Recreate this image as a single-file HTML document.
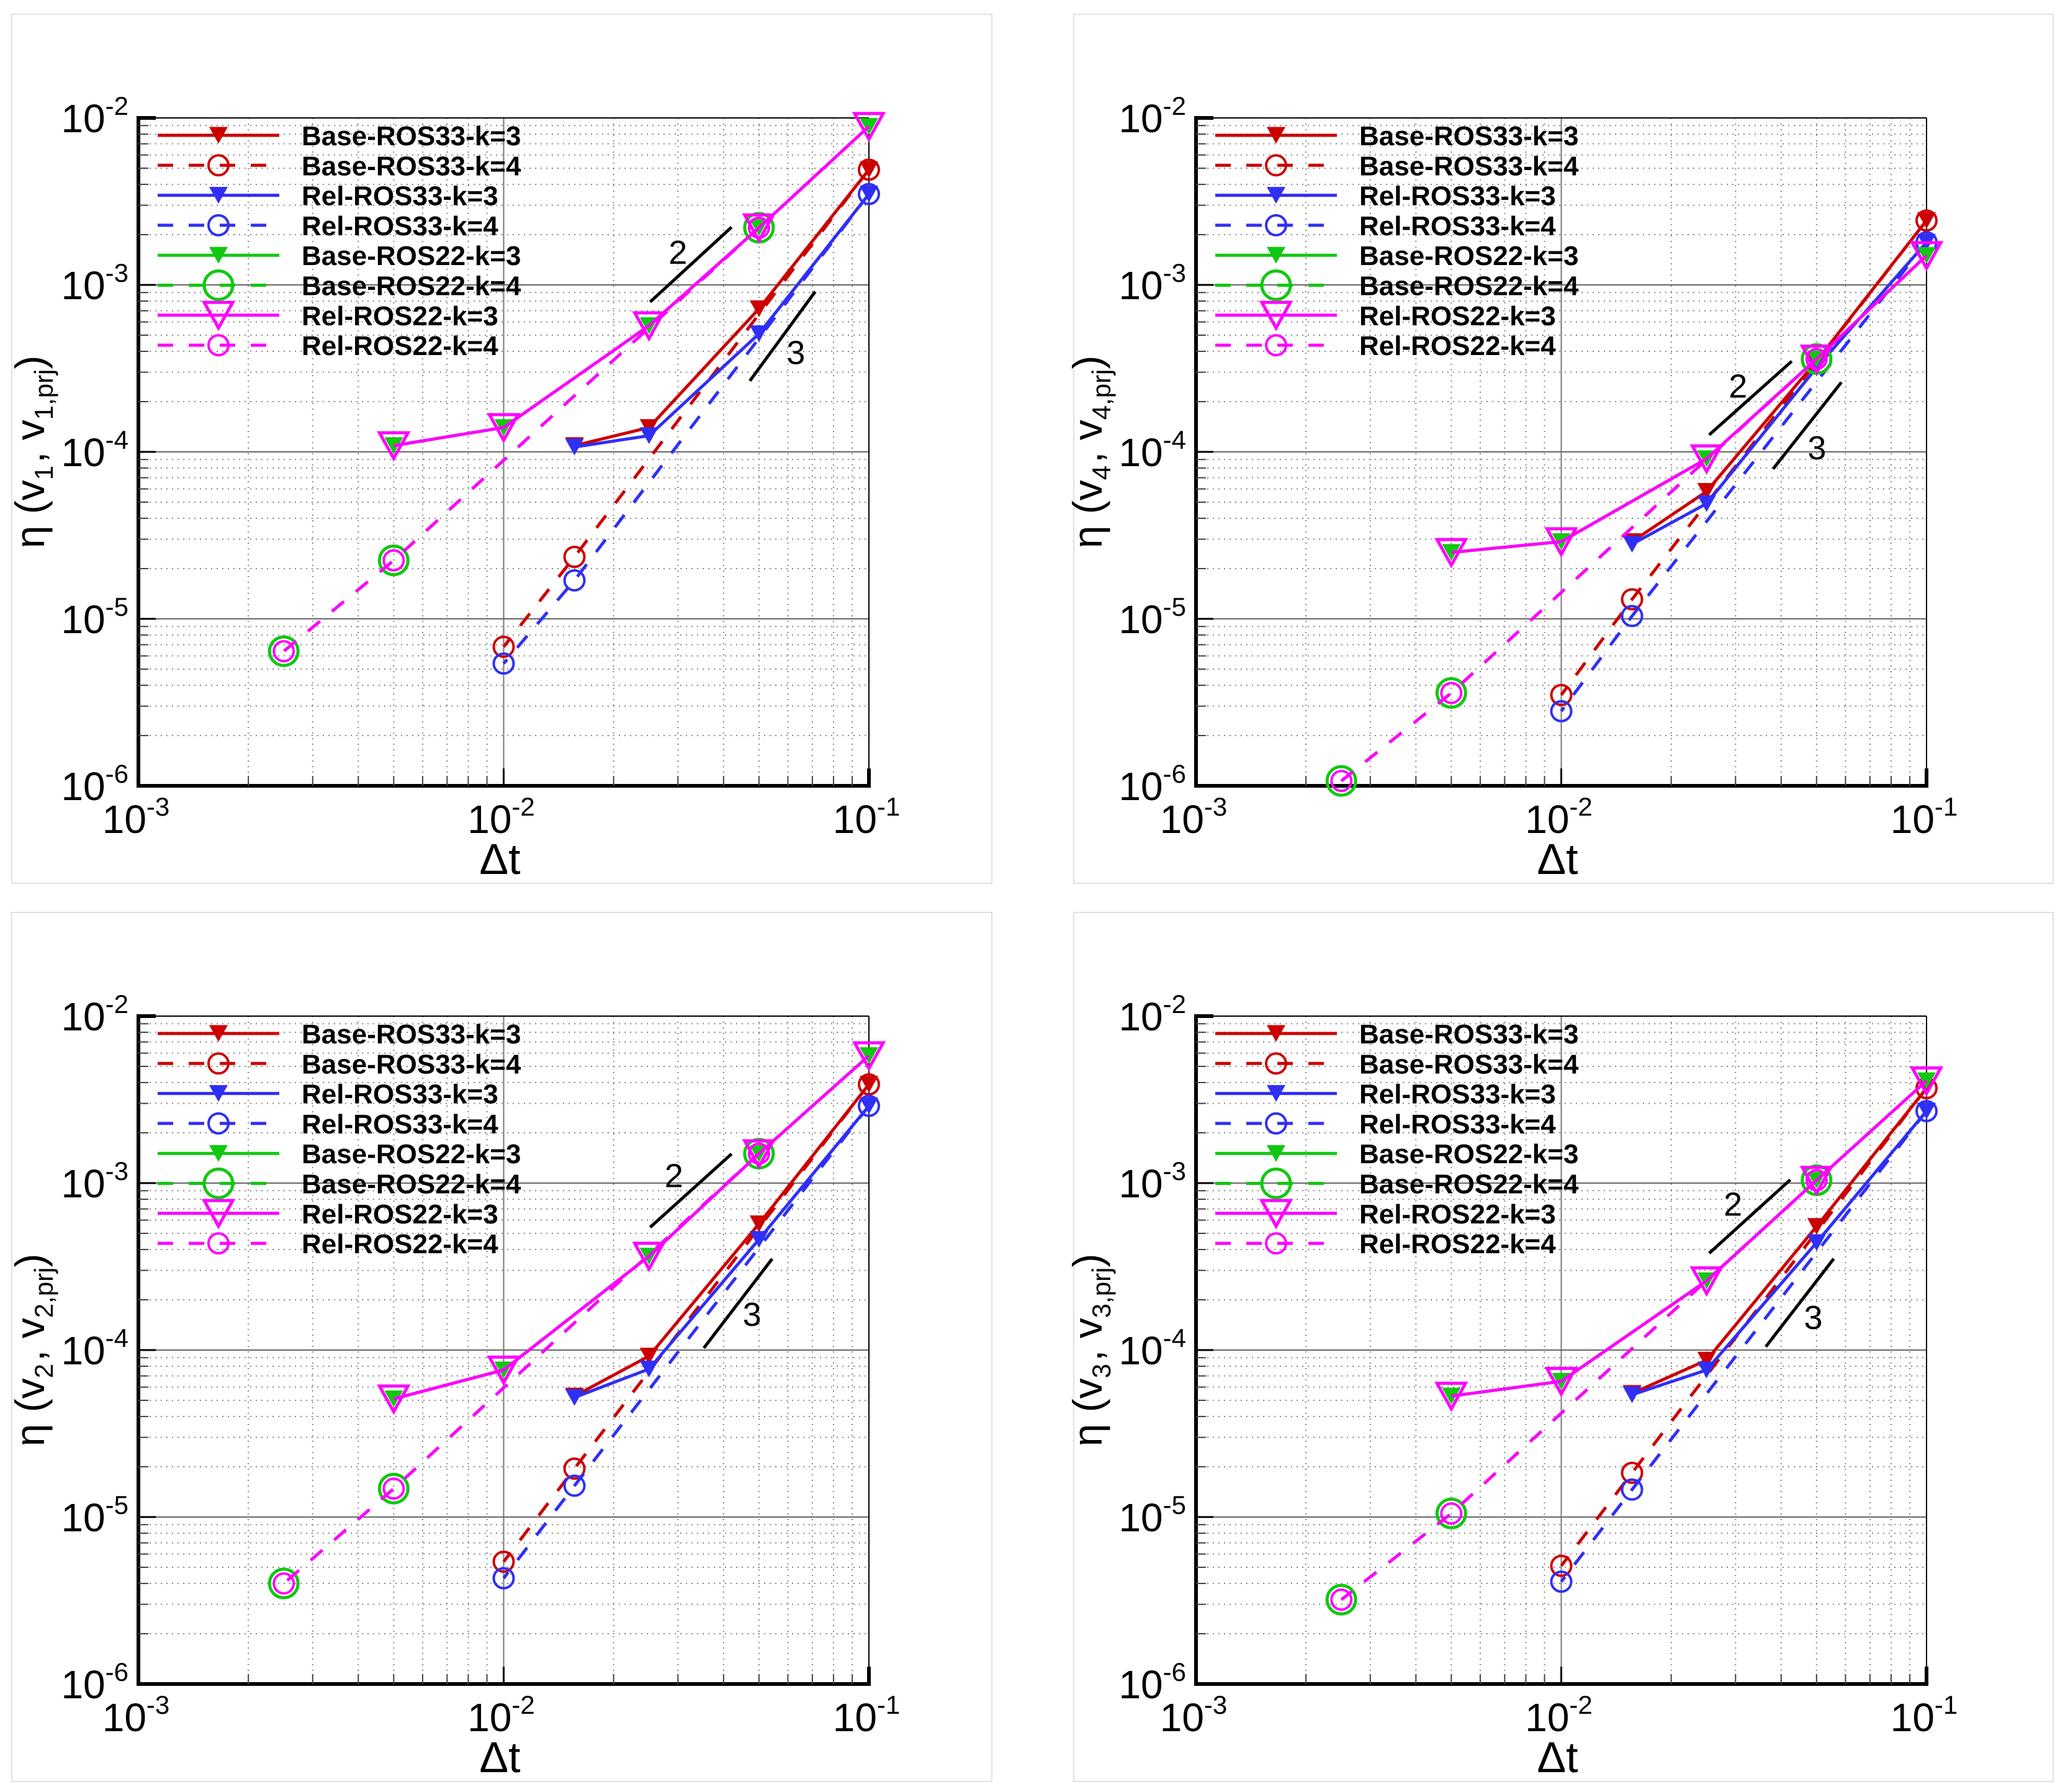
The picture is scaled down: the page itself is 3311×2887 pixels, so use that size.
<!DOCTYPE html>
<html><head><meta charset="utf-8"><style>
html,body{margin:0;padding:0;background:#fff;}
svg{display:block;font-family:"Liberation Sans",Arial,sans-serif;}
</style></head><body>
<svg id="fig" width="3311" height="2887" viewBox="0 0 3311 2887" xmlns="http://www.w3.org/2000/svg"></svg>
<script>
// ---- data ----
const dt33k3 = [0.1, 0.05, 0.025, 0.015625];
const dt33k4 = [0.1, 0.015625, 0.01];
const dt22k3 = [0.1, 0.05, 0.025, 0.01, 0.005];
const dt22k4 = [0.05, 0.005, 0.0025];
const xTickLabels = ["-3", "-2", "-1"];
const yTickLabels = ["-6", "-5", "-4", "-3", "-2"];
const legendLabels = ["Base-ROS33-k=3","Base-ROS33-k=4","Rel-ROS33-k=3","Rel-ROS33-k=4","Base-ROS22-k=3","Base-ROS22-k=4","Rel-ROS22-k=3","Rel-ROS22-k=4"];
const panelNames = ["v1","v4","v2","v3"];

const p1_b33k3 = [4.9e-3, 7.2e-4, 1.4e-4, 1.09e-4];
const p1_r33k3 = [3.5e-3, 5.1e-4, 1.25e-4, 1.07e-4];
const p1_b33k4 = [4.9e-3, 2.35e-5, 6.8e-6];
const p1_r33k4 = [3.5e-3, 1.7e-5, 5.4e-6];
const p1_r22k3 = [8.9e-3, 2.2e-3, 5.7e-4, 1.4e-4, 1.09e-4];
const p1_r22k4 = [2.2e-3, 2.24e-5, 6.4e-6];

const p2_b33k3 = [2.43e-3, 3.5e-4, 5.8e-5, 2.9e-5];
const p2_r33k3 = [1.8e-3, 3.2e-4, 4.9e-5, 2.8e-5];
const p2_b33k4 = [2.43e-3, 1.31e-5, 3.5e-6];
const p2_r33k4 = [1.8e-3, 1.04e-5, 2.8e-6];
const p2_r22k3 = [1.5e-3, 3.6e-4, 9.1e-5, 2.9e-5, 2.5e-5];
const p2_r22k4 = [3.6e-4, 3.6e-6, 1.07e-6];

const p3_b33k3 = [3.9e-3, 5.7e-4, 9.2e-5, 5.3e-5];
const p3_r33k3 = [2.9e-3, 4.6e-4, 7.7e-5, 5.2e-5];
const p3_b33k4 = [3.9e-3, 1.95e-5, 5.4e-6];
const p3_r33k4 = [2.9e-3, 1.54e-5, 4.3e-6];
const p3_r22k3 = [5.8e-3, 1.5e-3, 3.65e-4, 7.6e-5, 5.1e-5];
const p3_r22k4 = [1.5e-3, 1.48e-5, 4.0e-6];

const p4_b33k3 = [3.7e-3, 5.5e-4, 8.7e-5, 5.5e-5];
const p4_r33k3 = [2.7e-3, 4.4e-4, 7.6e-5, 5.4e-5];
const p4_b33k4 = [3.7e-3, 1.84e-5, 5.1e-6];
const p4_r33k4 = [2.7e-3, 1.46e-5, 4.1e-6];
const p4_r22k3 = [4.1e-3, 1.04e-3, 2.6e-4, 6.5e-5, 5.3e-5];
const p4_r22k4 = [1.04e-3, 1.05e-5, 3.2e-6];

// slope indicators (log10 coords): [x0,y0,x1,y1]
const slope2 = [[-1.599,-3.102,-1.376,-2.654],[-1.595,-3.898,-1.369,-3.457],[-1.599,-3.265,-1.376,-2.825],[-1.595,-3.42,-1.373,-2.98]];
const slope3 = [[-1.326,-3.575,-1.147,-3.04],[-1.42,-4.102,-1.233,-3.583],[-1.452,-3.988,-1.265,-3.454],[-1.44,-3.98,-1.254,-3.453]];
const slope2Label = [[-1.523,-2.80],[-1.516,-3.60],[-1.534,-2.95],[-1.53,-3.12]];
const slope3Label = [[-1.20,-3.40],[-1.30,-3.97],[-1.32,-3.78],[-1.31,-3.80]];

const panelData = [
 [p1_b33k3,p1_r33k3,p1_b33k4,p1_r33k4,p1_r22k3,p1_r22k4],
 [p2_b33k3,p2_r33k3,p2_b33k4,p2_r33k4,p2_r22k3,p2_r22k4],
 [p3_b33k3,p3_r33k3,p3_b33k4,p3_r33k4,p3_r22k3,p3_r22k4],
 [p4_b33k3,p4_r33k3,p4_b33k4,p4_r33k4,p4_r22k3,p4_r22k4]
];

// ---- drawing ----
const NS = "http://www.w3.org/2000/svg";
const svg = document.getElementById("fig");
function mk(tag, attrs, parent){
  const e = document.createElementNS(NS, tag);
  for (const k in attrs) e.setAttribute(k, attrs[k]);
  (parent||svg).appendChild(e);
  return e;
}
const RED="#cc0000", BLUE="#2f2ff5", GREEN="#11c811", MAG="#ff00ff";
const W=1177, H=1076;
const origins = [[223,190],[1927,190],[223,1637],[1927,1637]];
const frames = [[19,23,1579,1400],[1730,23,1578,1400],[19,1470,1579,1400],[1730,1470,1578,1400]];

function tri(g, x, y, s, fill, stroke, sw){
  const h = s*0.9;
  return mk("polygon",{points:`${x-s/2},${y-h/2} ${x+s/2},${y-h/2} ${x},${y+h/2}`, fill:fill, stroke:stroke||"none", "stroke-width":sw||0}, g);
}
function circ(g, x, y, r, col, sw){
  return mk("circle",{cx:x, cy:y, r:r, fill:"none", stroke:col, "stroke-width":sw}, g);
}

panelData.forEach((pd, pi) => {
  const [ox, oy] = origins[pi];
  const X = v => ox + (Math.log10(v) + 3) / 2 * W;
  const Y = v => oy + (-2 - Math.log10(v)) / 4 * H;
  const XL = l => ox + (l + 3) / 2 * W;
  const YL = l => oy + (-2 - l) / 4 * H;

  const g = mk("g", {});
  
  
  const fr = frames[pi];
  const frame = mk("rect",{x:fr[0],y:fr[1],width:fr[2],height:fr[3],fill:"none",stroke:"#e0e0e0","stroke-width":2}, g);
  
  

  // grid
  const grid = mk("g", {}, g);
  
  
  for (let d=-3; d<-1; d++) for (let m=2; m<=9; m++){
    const x = XL(d + Math.log10(m));
    mk("line",{x1:x,y1:oy,x2:x,y2:oy+H,stroke:"#888","stroke-width":2,"stroke-dasharray":"2 7"}, grid);
  }
  for (let d=-6; d<-2; d++) for (let m=2; m<=9; m++){
    const y = YL(d + Math.log10(m));
    mk("line",{x1:ox,y1:y,x2:ox+W,y2:y,stroke:"#888","stroke-width":2,"stroke-dasharray":"2 7"}, grid);
  }
  mk("line",{x1:XL(-2),y1:oy,x2:XL(-2),y2:oy+H,stroke:"#777","stroke-width":2}, grid);
  for (let d=-5; d<=-3; d++) mk("line",{x1:ox,y1:YL(d),x2:ox+W,y2:YL(d),stroke:"#666","stroke-width":2}, grid);

  // axes
  const ax = mk("g", {}, g);
  
  
  mk("line",{x1:ox,y1:oy,x2:ox+W,y2:oy,stroke:"#000","stroke-width":2}, ax);
  mk("line",{x1:ox+W,y1:oy,x2:ox+W,y2:oy+H,stroke:"#000","stroke-width":2}, ax);
  mk("line",{x1:ox,y1:oy-3,x2:ox,y2:oy+H+3,stroke:"#000","stroke-width":6}, ax);
  mk("line",{x1:ox-3,y1:oy+H,x2:ox+W+3,y2:oy+H,stroke:"#000","stroke-width":6}, ax);
  for (let d=-3; d<=-1; d++){
    const x = XL(d);
    mk("line",{x1:x,y1:oy+H,x2:x,y2:oy+H-28,stroke:"#000","stroke-width":d==-1?6:3}, ax);
    if (d<-1) for (let m=2; m<=9; m++){
      const xm = XL(d+Math.log10(m));
      mk("line",{x1:xm,y1:oy+H,x2:xm,y2:oy+H-16,stroke:"#444","stroke-width":2}, ax);
    }
  }
  for (let d=-6; d<=-2; d++){
    const y = YL(d);
    mk("line",{x1:ox,y1:y,x2:ox+28,y2:y,stroke:"#000","stroke-width":d==-2?6:3}, ax);
    if (d<-2) for (let m=2; m<=9; m++){
      const ym = YL(d+Math.log10(m));
      mk("line",{x1:ox,y1:ym,x2:ox+16,y2:ym,stroke:"#444","stroke-width":2}, ax);
    }
  }
  // tick labels
  xTickLabels.forEach((lab, i) => {
    const t = mk("text",{x:XL(-3+i)-4,y:oy+H+76,"font-size":64,"text-anchor":"middle"}, g);
    
    
    t.appendChild(document.createTextNode("10"));
    const s = mk("tspan",{"font-size":42,dy:-28}, t); s.textContent = lab;
  });
  yTickLabels.forEach((lab, i) => {
    const t = mk("text",{x:ox-16,y:YL(-6+i)+23,"font-size":64,"text-anchor":"end"}, g);
    
    
    t.appendChild(document.createTextNode("10"));
    const s = mk("tspan",{"font-size":42,dy:-28}, t); s.textContent = lab;
  });
  // axis titles
  const xt = mk("text",{x:ox+W*0.5-6,y:oy+H+142,"font-size":70,"text-anchor":"middle"}, g);
  
  
  xt.textContent = "\u0394t";
  const idx = panelNames[pi].slice(1);
  const yt = mk("text",{x:0,y:0,"font-size":66,"text-anchor":"middle",transform:`translate(${ox-152},${oy+H*0.5}) rotate(-90)`}, g);
  
  
  yt.appendChild(document.createTextNode("\u03B7 (v"));
  let s1 = mk("tspan",{"font-size":42,dy:14}, yt); s1.textContent = idx;
  let s2 = mk("tspan",{dy:-14,dx:4}, yt); s2.textContent = ", v";
  let s3 = mk("tspan",{"font-size":42,dy:14}, yt); s3.textContent = idx + ",prj";
  let s4 = mk("tspan",{dy:-14}, yt); s4.textContent = ")";

  // slope indicators
  const sl = mk("g", {}, g);
  
  
  [slope2[pi], slope3[pi]].forEach(s => mk("line",{x1:XL(s[0]),y1:YL(s[1]),x2:XL(s[2]),y2:YL(s[3]),stroke:"#000","stroke-width":5}, sl));
  const l2 = mk("text",{x:XL(slope2Label[pi][0]),y:YL(slope2Label[pi][1])+20,"font-size":54,"text-anchor":"middle"}, sl); l2.textContent="2";
  const l3 = mk("text",{x:XL(slope3Label[pi][0]),y:YL(slope3Label[pi][1])+20,"font-size":54,"text-anchor":"middle"}, sl); l3.textContent="3";

  // series
  const [b33k3, r33k3, b33k4, r33k4, r22k3, r22k4] = pd;
  const series = [
    {name:"base-ros33-k3", xs:dt33k3, ys:b33k3, col:RED, dash:null, mark:"tri"},
    {name:"base-ros33-k4", xs:dt33k4, ys:b33k4, col:RED, dash:"25 25", mark:"circ"},
    {name:"rel-ros33-k3", xs:dt33k3, ys:r33k3, col:BLUE, dash:null, mark:"tri"},
    {name:"rel-ros33-k4", xs:dt33k4, ys:r33k4, col:BLUE, dash:"25 25", mark:"circ"},
    {name:"base-ros22-k3", xs:dt22k3, ys:r22k3, col:GREEN, dash:null, mark:"tri"},
    {name:"base-ros22-k4", xs:dt22k4, ys:r22k4, col:GREEN, dash:"25 25", mark:"bigcirc"},
    {name:"rel-ros22-k3", xs:dt22k3, ys:r22k3, col:MAG, dash:null, mark:"opentri"},
    {name:"rel-ros22-k4", xs:dt22k4, ys:r22k4, col:MAG, dash:"25 25", mark:"circ"}
  ];
  function marker(sg, kind, x, y, col){
    if (kind=="tri") return tri(sg, x, y, 30, col);
    if (kind=="circ") return circ(sg, x, y, 16, col, 4);
    if (kind=="bigcirc") return circ(sg, x, y, 23, col, 5);
    if (kind=="opentri") return tri(sg, x, y, 46, "none", col, 5);
  }
  series.forEach(s => {
    const sg = mk("g", {}, g);
    
    
    const pts = s.xs.map((v,i) => `${X(v)},${Y(s.ys[i])}`).join(" ");
    const pl = mk("polyline",{points:pts,fill:"none",stroke:s.col,"stroke-width":5}, sg);
    if (s.dash) pl.setAttribute("stroke-dasharray", s.dash);
    s.xs.forEach((v,i) => {
      const m = marker(sg, s.mark, X(v), Y(s.ys[i]), s.col);
      
      
    });
  });

  // legend
  const lg = mk("g", {}, g);
  
  
  series.forEach((s, i) => {
    const y = oy + 28 + i*48.3;
    const e = mk("g", {}, lg);
    
    
    const ln = mk("line",{x1:ox+31,y1:y,x2:ox+227,y2:y,stroke:s.col,"stroke-width":5}, e);
    if (s.dash) ln.setAttribute("stroke-dasharray", s.dash);
    marker(e, s.mark, ox+129, y, s.col);
    const t = mk("text",{x:ox+263,y:y+16,"font-size":44,"font-weight":"bold"}, e);
    t.textContent = legendLabels[i];
  });
});
</script>
</body></html>
